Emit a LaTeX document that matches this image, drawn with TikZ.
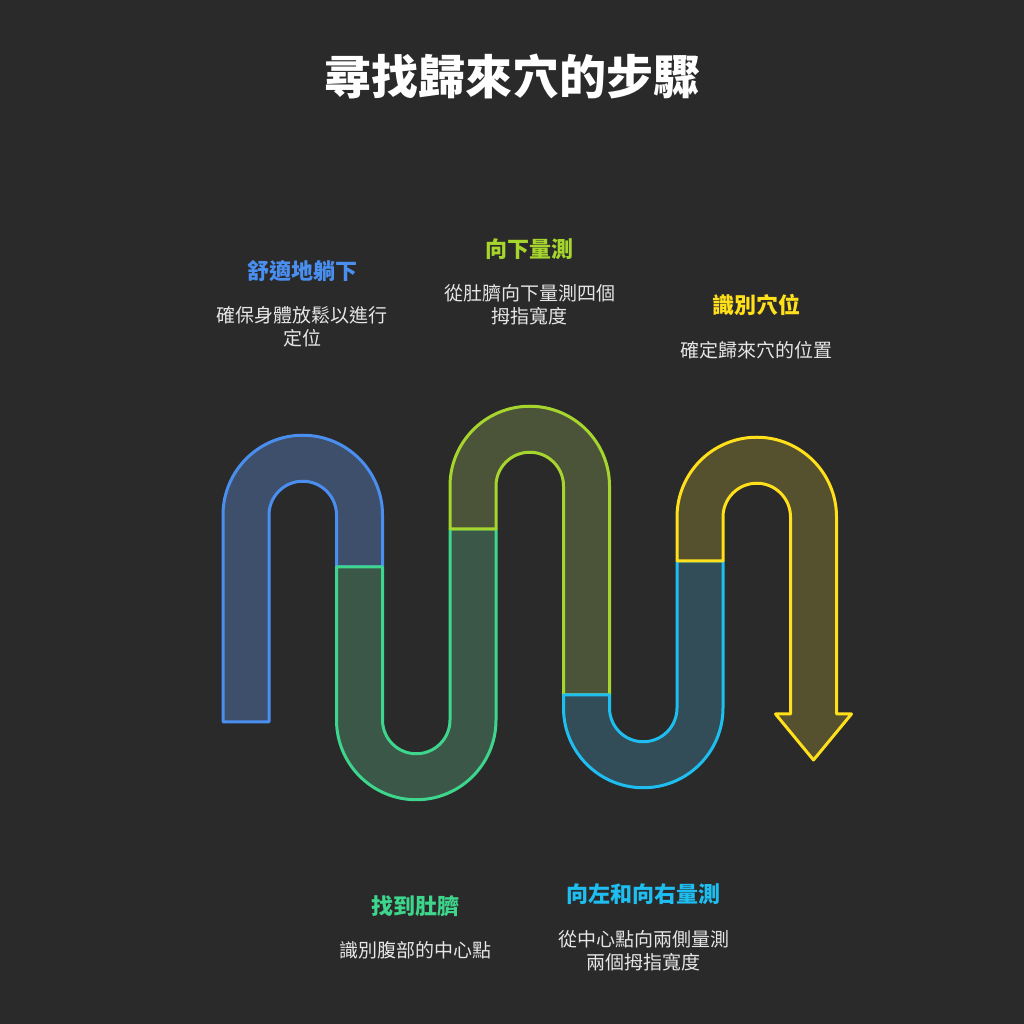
\documentclass[tikz,border=0pt]{standalone}
\usepackage{fontspec}
\setmainfont{Noto Sans CJK TC}
\usetikzlibrary{positioning}
\definecolor{bgdark}{HTML}{2A2A2A}
\definecolor{stepblue}{HTML}{4A8FF0}
\definecolor{stepgreen}{HTML}{3DD68C}
\definecolor{steplime}{HTML}{A6D62E}
\definecolor{stepcyan}{HTML}{1EBEF0}
\definecolor{stepyellow}{HTML}{FFE01A}
\definecolor{fillblue}{HTML}{3D4F6B}
\definecolor{fillgreen}{HTML}{3A5748}
\definecolor{filllime}{HTML}{4B5339}
\definecolor{fillcyan}{HTML}{334D58}
\definecolor{fillyellow}{HTML}{55502E}
\definecolor{desctext}{HTML}{E6E6E6}

\begin{document}
\begin{tikzpicture}[x=1pt,y=1pt,
    band/.style={line width=3pt, line join=round},
    steptitle/.style={font=\fontsize{22}{26}\selectfont\bfseries, align=center},
    stepdesc/.style={font=\fontsize{19}{23}\selectfont, text=desctext, align=center}]
        % Background
        \fill[bgdark] (0,0) rectangle (1024,1024);
        \useasboundingbox (0,0) rectangle (1024,1024);

        % Title
        \node[font=\fontsize{47}{50}\selectfont\bfseries, text=white] (title) at (512,947) {尋找歸來穴的步驟};

        % Blue band
        \draw[band, stepblue, fill=fillblue] (223,302) -- (223,509) arc[start angle=180, end angle=0, radius=79.75]
            -- (382.5,457) -- (336.5,457) -- (336.5,509) arc[start angle=0, end angle=180, radius=33.75]
            -- (269,302) -- cycle;

        % Green band
        \draw[band, stepgreen, fill=fillgreen] (336.5,457) -- (336.5,304) arc[start angle=180, end angle=360, radius=79.75]
            -- (496,495) -- (450,495) -- (450,304) arc[start angle=0, end angle=-180, radius=33.75]
            -- (382.5,457) -- cycle;

        % Lime band
        \draw[band, steplime, fill=filllime] (450,495) -- (450,538) arc[start angle=180, end angle=0, radius=79.75]
            -- (609.5,329) -- (563.5,329) -- (563.5,538) arc[start angle=0, end angle=180, radius=33.75]
            -- (496,495) -- cycle;

        % Cyan band
        \draw[band, stepcyan, fill=fillcyan] (563.5,329) -- (563.5,316) arc[start angle=180, end angle=360, radius=79.75]
            -- (723,463) -- (677,463) -- (677,316) arc[start angle=0, end angle=-180, radius=33.75]
            -- (609.5,329) -- cycle;

        % Yellow band with arrow head
        \draw[band, stepyellow, fill=fillyellow] (677,463) -- (677,507) arc[start angle=180, end angle=0, radius=79.75]
            -- (836.5,310) -- (851.5,310) -- (813.5,264) -- (775.5,310) -- (790.5,310)
            -- (790.5,507) arc[start angle=0, end angle=180, radius=33.75]
            -- (723,463) -- cycle;

        % Step 1
        \node[steptitle, text=stepblue] (lie) at (302,753) {舒適地躺下};
        \node[stepdesc] (liedesc) at (302,697.5) {確保身體放鬆以進行\\定位};

        % Step 2
        \node[steptitle, text=stepgreen] (navel) at (415,118) {找到肚臍};
        \node[stepdesc] (naveldesc) at (415,74) {識別腹部的中心點};

        % Step 3
        \node[steptitle, text=steplime] (down) at (529.5,775) {向下量測};
        \node[stepdesc] (downdesc) at (529.5,719.5) {從肚臍向下量測四個\\拇指寬度};

        % Step 4
        \node[steptitle, text=stepcyan] (side) at (643.5,130) {向左和向右量測};
        \node[stepdesc] (sidedesc) at (643.5,73.5) {從中心點向兩側量測\\兩個拇指寬度};

        % Step 5
        \node[steptitle, text=stepyellow] (point) at (756,719) {識別穴位};
        \node[stepdesc] (pointdesc) at (756,674) {確定歸來穴的位置};

      \end{tikzpicture}
\end{document}
